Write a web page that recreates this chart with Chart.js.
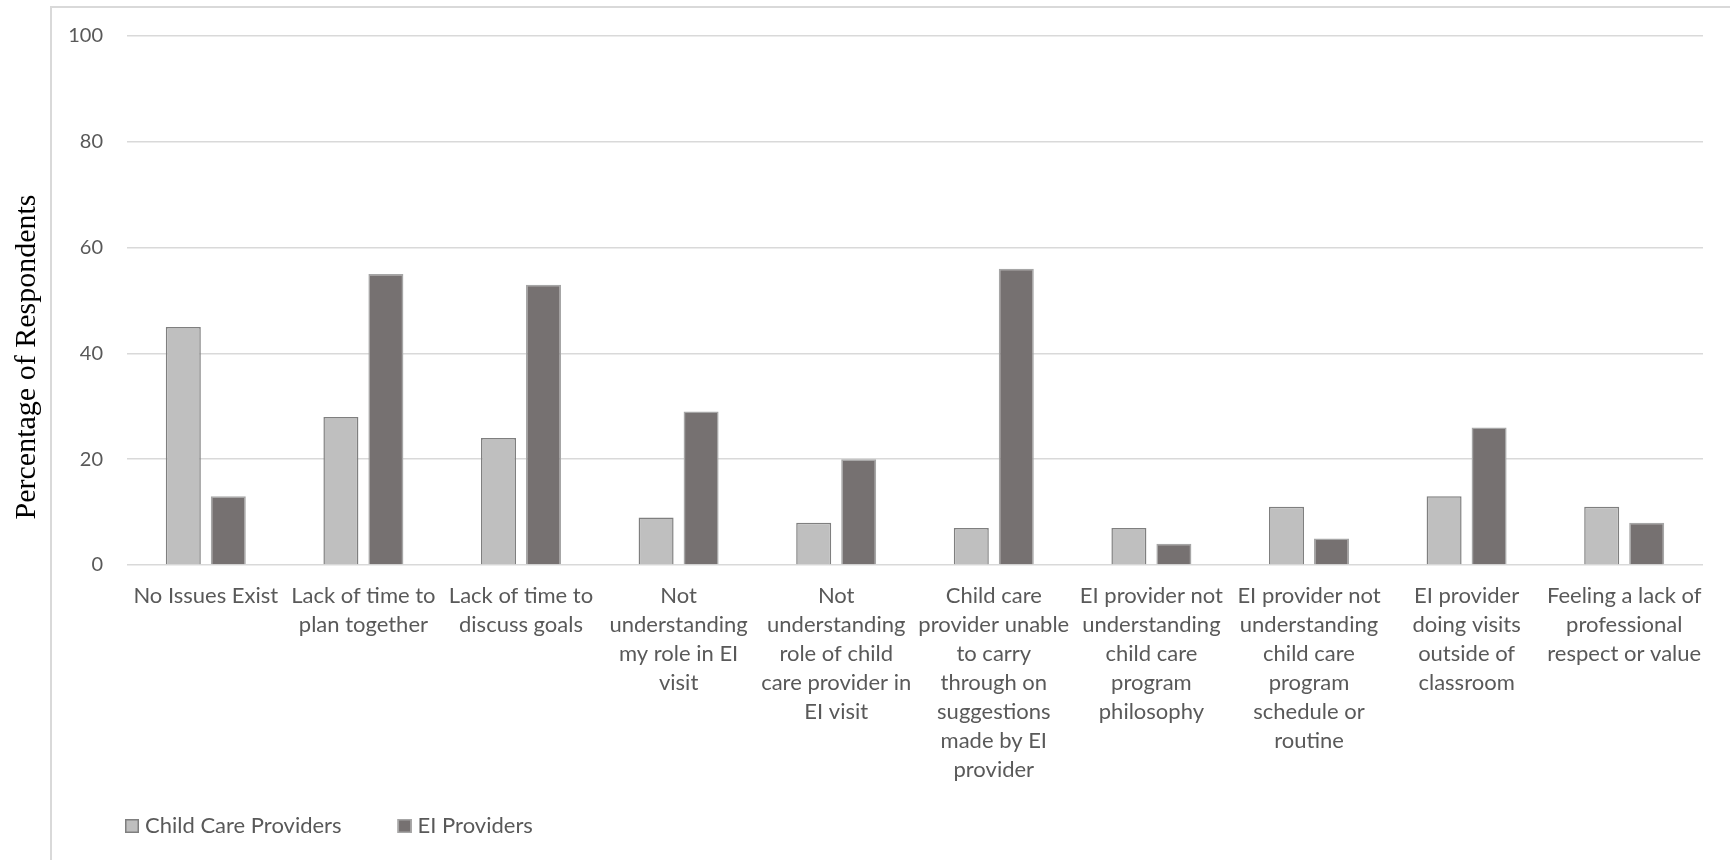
<!DOCTYPE html>
<html>
<head>
<meta charset="utf-8">
<title>Collaboration barriers</title>
<script src="https://cdn.jsdelivr.net/npm/chart.js@4.4.1/dist/chart.umd.min.js"></script>
<style>
  html, body { margin: 0; padding: 0; background: #fff; }
  #wrap { width: 1730px; height: 860px; }
</style>
</head>
<body>
<div id="wrap"><canvas id="barriersChart"></canvas></div>
<script>
// Categories, already split into the lines they wrap to
const categories = [
    ['No Issues Exist'],
    ['Lack of time to', 'plan together'],
    ['Lack of time to', 'discuss goals'],
    ['Not', 'understanding', 'my role in EI', 'visit'],
    ['Not', 'understanding', 'role of child', 'care provider in', 'EI visit'],
    ['Child care', 'provider unable', 'to carry', 'through on', 'suggestions', 'made by EI', 'provider'],
    ['EI provider not', 'understanding', 'child care', 'program', 'philosophy'],
    ['EI provider not', 'understanding', 'child care', 'program', 'schedule or', 'routine'],
    ['EI provider', 'doing visits', 'outside of', 'classroom'],
    ['Feeling a lack of', 'professional', 'respect or value']
];
const seriesNames = ['Child Care Providers', 'EI Providers'];
const childCareValues = [45, 28, 24, 9, 8, 7, 7, 11, 13, 11];
const eiValues = [13, 55, 53, 29, 20, 56, 4, 5, 26, 8];
const yTicks = [0, 20, 40, 60, 80, 100];
const yTitle = 'Percentage of Respondents';

const GREY_TEXT = '#595959';
const GRID = '#d9d9d9';

// light frame around the whole chart
const framePlugin = {
    id: 'frame',
    beforeDraw(chart) {
        const ctx = chart.ctx;
        ctx.save();
        ctx.strokeStyle = GRID;
        ctx.lineWidth = 2;
        ctx.strokeRect(51, 7, chart.width, chart.height);
        ctx.restore();
    }
};

// vertical axis title, serif like the original report
const yTitlePlugin = {
    id: 'yTitle',
    afterDraw(chart) {
        const ctx = chart.ctx;
        ctx.save();
        ctx.translate(35, 357);
        ctx.rotate(-Math.PI / 2);
        ctx.font = '30px "Liberation Serif", "Times New Roman", serif';
        ctx.fillStyle = '#000';
        ctx.textAlign = 'center';
        ctx.textBaseline = 'alphabetic';
        ctx.fillText(yTitle, 0, 0);
        ctx.restore();
    }
};

// legend under the axis labels, left aligned
const legendPlugin = {
    id: 'bottomLegend',
    afterDraw(chart) {
        const ctx = chart.ctx;
        ctx.save();
        ctx.font = '22px Lato, sans-serif';
        ctx.textBaseline = 'middle';
        ctx.textAlign = 'left';
        let x = 125;
        const y = 826;
        chart.data.datasets.forEach(ds => {
            ctx.fillStyle = ds.backgroundColor;
            ctx.fillRect(x, y - 7, 14, 14);
            ctx.strokeStyle = ds.borderColor;
            ctx.lineWidth = 1.5;
            ctx.strokeRect(x + 0.75, y - 6.25, 12.5, 12.5);
            ctx.fillStyle = GREY_TEXT;
            ctx.fillText(ds.label, x + 20, y);
            x += 20 + ctx.measureText(ds.label).width + 56;
        });
        ctx.restore();
    }
};

const ctx = document.getElementById('barriersChart').getContext('2d');

new Chart(ctx, {
    type: 'bar',
    data: {
        labels: categories,
        datasets: [
            {
                label: seriesNames[0],
                data: childCareValues,
                backgroundColor: '#bfbfbf',
                borderColor: '#7f7f7f',
                borderWidth: 1.5
            },
            {
                label: seriesNames[1],
                data: eiValues,
                backgroundColor: '#767171',
                borderColor: '#a6a6a6',
                borderWidth: 1.5
            }
        ]
    },
    options: {
        responsive: true,
        maintainAspectRatio: false,
        animation: false,
        categoryPercentage: 0.571,
        barPercentage: 0.778,
        layout: {
            padding: { top: 36, right: 27, left: 0, bottom: 0 }
        },
        plugins: {
            legend: { display: false },
            tooltip: { enabled: false }
        },
        scales: {
            x: {
                grid: { display: false, drawTicks: false },
                border: { display: false },
                ticks: {
                    color: GREY_TEXT,
                    font: { family: 'Lato', size: 22, lineHeight: 29 / 22 },
                    padding: 16,
                    autoSkip: false,
                    maxRotation: 0,
                    minRotation: 0
                },
                afterFit(scale) {
                    scale.height = 295;
                }
            },
            y: {
                min: 0,
                max: 100,
                grid: { color: GRID, lineWidth: 1.5, drawTicks: false },
                border: { display: false },
                ticks: {
                    color: GREY_TEXT,
                    font: { family: 'Lato', size: 20 },
                    padding: 24
                },
                afterBuildTicks(scale) {
                    scale.ticks = yTicks.map(v => ({ value: v }));
                },
                afterFit(scale) {
                    scale.width = 127;
                }
            }
        }
    },
    plugins: [framePlugin, yTitlePlugin, legendPlugin]
});
</script>
</body>
</html>
